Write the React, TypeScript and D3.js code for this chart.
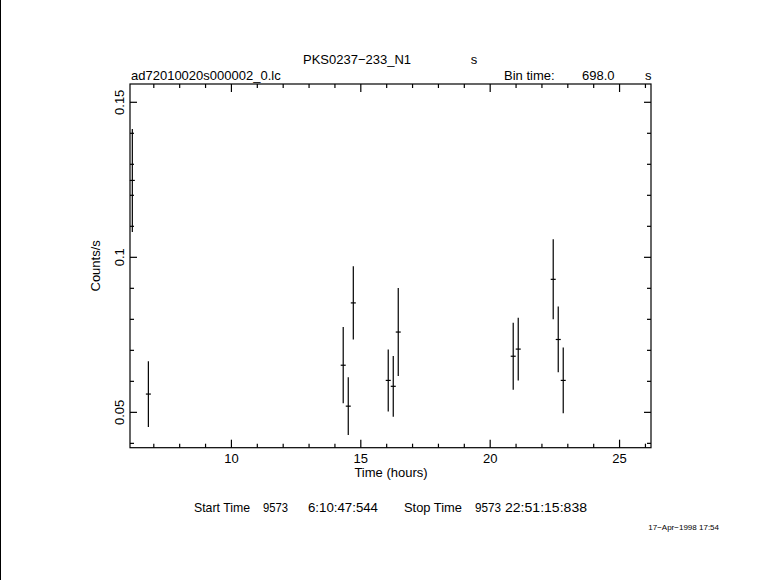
import React from "react";
import * as d3 from "d3";

const timeHours = [6.17, 6.79, 14.32, 14.515, 14.71, 16.06, 16.254, 16.447, 20.89, 21.084, 22.436, 22.63, 22.823];
const rate = [0.1248, 0.0559, 0.0652, 0.0520, 0.0853, 0.0603, 0.0584, 0.0759, 0.0681, 0.0704, 0.0929, 0.0735, 0.0603];
const rateErr = [0.0166, 0.0106, 0.0123, 0.0093, 0.0118, 0.0100, 0.0098, 0.0142, 0.0108, 0.0101, 0.0129, 0.0106, 0.0106];
const halfBinHours = 698.0 / 2 / 3600;
const xMajorTicks = [10, 15, 20, 25];
const yMajorTicks = [0.05, 0.1, 0.15];
const yTickLabels = ["0.05", "0.1", "0.15"];
const footerParts = ["Start Time", "9573", "6:10:47:544", "Stop Time", "9573", "22:51:15:838"];
const footerX = [194, 263, 308, 404, 475, 505];
const footerW = [56, 25, 70, 58, 26, 82];

const W = 781, H = 580;
const L = 130, R = 651, T = 84, B = 447.7;
const font = "'Liberation Sans', Arial, sans-serif";
const fs = 13;

export default function App() {
  const x = d3.scaleLinear().domain([6.08, 26.215]).range([L, R]);
  const y = d3.scaleLinear().domain([0.0386, 0.1559]).range([B, T]);
  const xMinor = d3.range(7, 27, 1).filter((v) => !xMajorTicks.includes(v));
  const yMinor = d3.range(4, 16, 1).map((v) => v / 100).filter((v) => !yMajorTicks.some((m) => Math.abs(m - v) < 1e-9));
  const stroke = { stroke: "#000", strokeWidth: 1.2 };
  return (
    <div style={{ position: "absolute", left: 0, top: 0 }}>
      <svg width={W} height={H} style={{ display: "block", background: "#fff" }}>
        <rect x={0} y={0} width={W} height={H} fill="#fff" />
        <line x1={0.5} y1={0} x2={0.5} y2={H} stroke="#000" strokeWidth={1} />
        <rect x={L} y={T} width={R - L} height={B - T} fill="none" {...stroke} />
        {xMajorTicks.map((v) => (
          <g key={"xM" + v}>
            <line x1={x(v)} x2={x(v)} y1={B} y2={B - 8} {...stroke} />
            <line x1={x(v)} x2={x(v)} y1={T} y2={T + 8} {...stroke} />
            <text x={x(v)} y={463} textAnchor="middle" fontFamily={font} fontSize={fs}>{v}</text>
          </g>
        ))}
        {xMinor.map((v) => (
          <g key={"xm" + v}>
            <line x1={x(v)} x2={x(v)} y1={B} y2={B - 4} {...stroke} />
            <line x1={x(v)} x2={x(v)} y1={T} y2={T + 4} {...stroke} />
          </g>
        ))}
        {yMajorTicks.map((v, i) => (
          <g key={"yM" + v}>
            <line x1={L} x2={L + 7} y1={y(v)} y2={y(v)} {...stroke} />
            <line x1={R} x2={R - 7} y1={y(v)} y2={y(v)} {...stroke} />
            <text transform={`translate(124,${y(v)}) rotate(-90)`} textAnchor="middle" fontFamily={font} fontSize={fs}>{yTickLabels[i]}</text>
          </g>
        ))}
        {yMinor.map((v) => (
          <g key={"ym" + v}>
            <line x1={L} x2={L + 4} y1={y(v)} y2={y(v)} {...stroke} />
            <line x1={R} x2={R - 4} y1={y(v)} y2={y(v)} {...stroke} />
          </g>
        ))}
        {timeHours.map((t, i) => (
          <g key={"p" + i}>
            <line x1={x(t)} x2={x(t)} y1={y(rate[i] - rateErr[i])} y2={y(rate[i] + rateErr[i])} {...stroke} />
            <line x1={x(t - halfBinHours)} x2={x(t + halfBinHours)} y1={y(rate[i])} y2={y(rate[i])} {...stroke} />
          </g>
        ))}
        <text x={357} y={64} textAnchor="middle" fontFamily={font} fontSize={fs}>PKS0237−233_N1</text>
        <text x={474} y={64} textAnchor="middle" fontFamily={font} fontSize={fs}>s</text>
        <text x={131} y={80} fontFamily={font} fontSize={fs}>ad72010020s000002_0.lc</text>
        <text x={504} y={80} fontFamily={font} fontSize={fs}>Bin time:</text>
        <text x={582} y={80} fontFamily={font} fontSize={fs}>698.0</text>
        <text x={645} y={80} fontFamily={font} fontSize={fs}>s</text>
        <text transform={`translate(100,${(T + B) / 2}) rotate(-90)`} textAnchor="middle" fontFamily={font} fontSize={fs}>Counts/s</text>
        <text x={391} y={477} textAnchor="middle" fontFamily={font} fontSize={fs}>Time (hours)</text>
        {footerParts.map((s, i) => (
          <text key={"f" + i} x={footerX[i]} y={512} fontFamily={font} fontSize={fs} textLength={footerW[i]} lengthAdjust="spacingAndGlyphs">{s}</text>
        ))}
        <text x={719} y={530} textAnchor="end" fontFamily={font} fontSize={8}>17−Apr−1998 17:54</text>
      </svg>
    </div>
  );
}
